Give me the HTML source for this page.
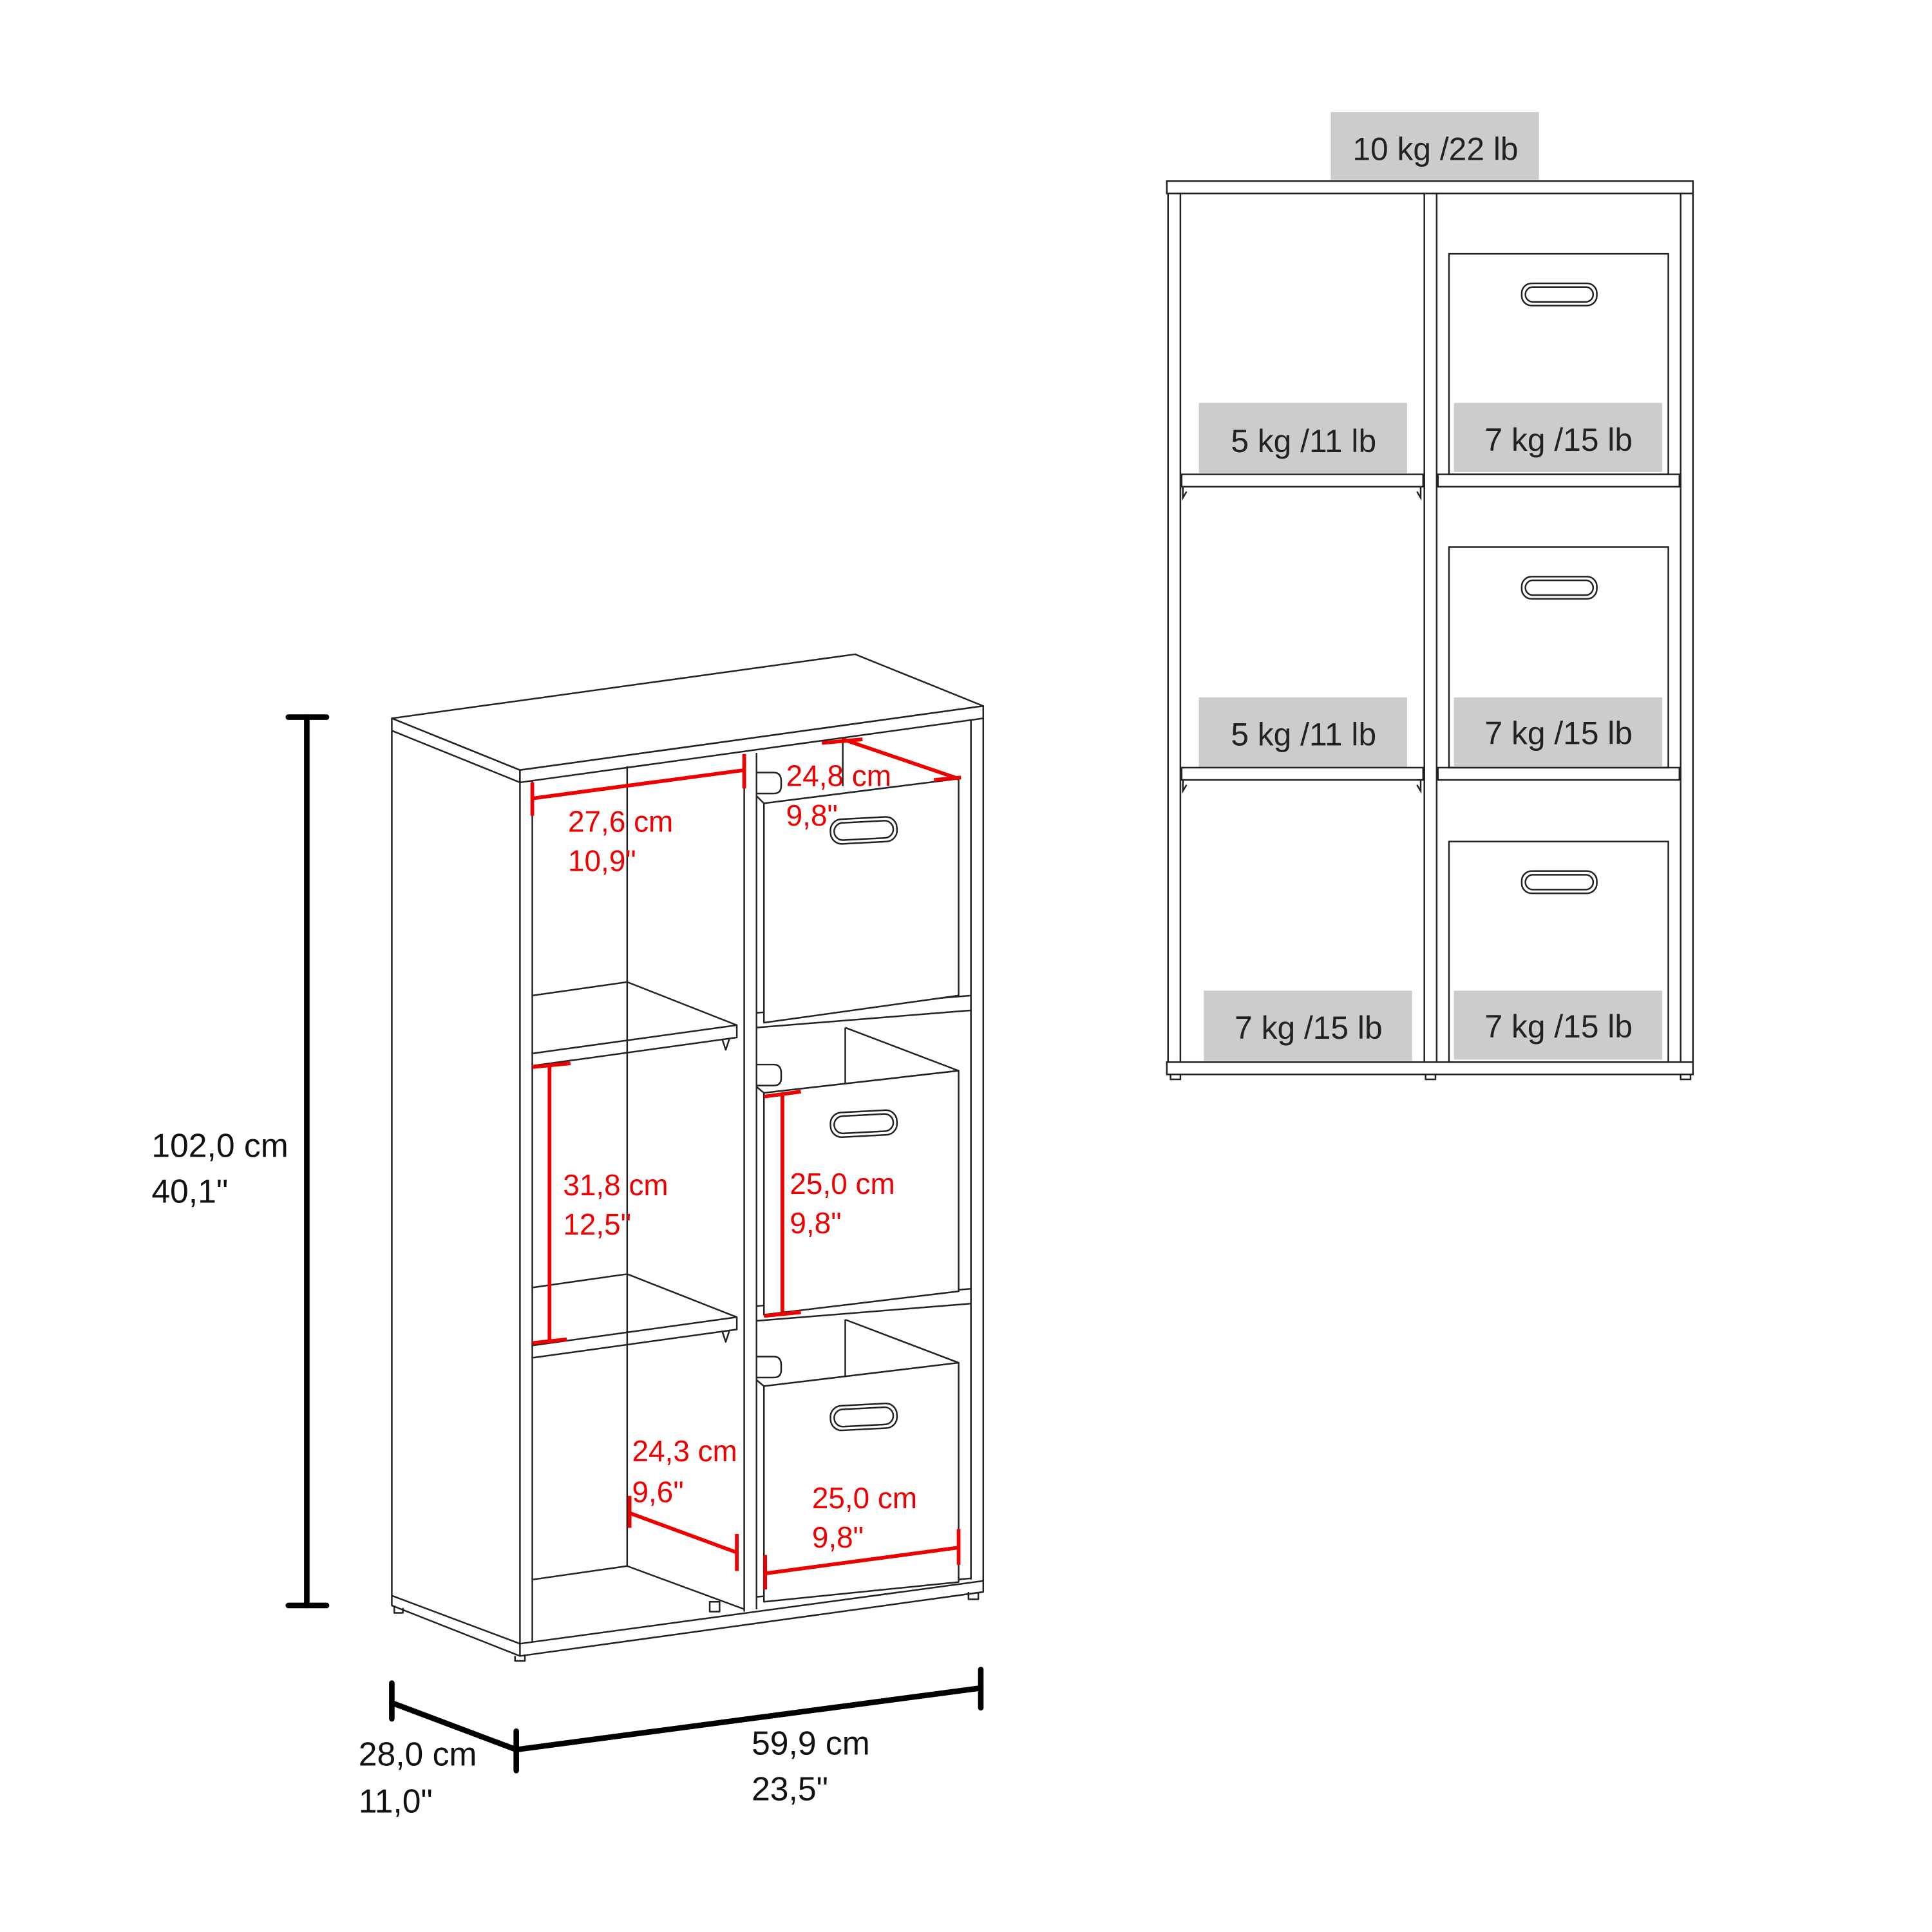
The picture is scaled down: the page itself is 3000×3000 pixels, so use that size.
<!DOCTYPE html>
<html><head><meta charset="utf-8"><style>
html,body{margin:0;padding:0;background:#fff}
svg{display:block}
text{font-family:"Liberation Sans",sans-serif}
</style></head><body>
<svg width="3000" height="3000" viewBox="0 0 1568 1568" xmlns="http://www.w3.org/2000/svg">
<g fill="none" stroke="#222" stroke-width="1.3" stroke-linejoin="round">
<polygon points="318,583 694,531 798,573 422,625" fill="#fff"/>
<polygon points="318,583 422,625 422,635 318,593" fill="#fff"/>
<polygon points="422,625 798,573 798,583 422,635" fill="#fff"/>
<line x1="318" y1="593" x2="318" y2="1295"/>
<line x1="422" y1="635" x2="422" y2="1342"/>
<line x1="432" y1="634" x2="432" y2="1332"/>
<line x1="788" y1="585" x2="788" y2="1282"/>
<line x1="798" y1="583" x2="798" y2="1283"/>
<line x1="604" y1="612" x2="604" y2="1308"/>
<line x1="614" y1="611" x2="614" y2="1306"/>
<polygon points="318,1295 422,1334 798,1283 798,1292 422,1344 318,1303" fill="#fff"/>
<line x1="422" y1="1334" x2="422" y2="1344"/>
<path d="M418,1344 v4 h8 v-4 M320,1303 v6 h7 v-4 M786,1292 v6 h8 v-6"/>
<line x1="509" y1="622" x2="509" y2="1271"/>
<polyline points="432,808 509,797 598,832 598,842 432,865"/>
<line x1="432" y1="855" x2="598" y2="832"/>
<path d="M586,843 l3,9 l3,-9"/>
<polyline points="432,1045 509,1034 598,1069 598,1079 432,1102"/>
<line x1="432" y1="1092" x2="598" y2="1069"/>
<path d="M586,1080 l3,9 l3,-9"/>
<polyline points="432,1282 509,1271 604,1306"/>
<rect x="576" y="1300" width="8" height="8"/>
<line x1="614" y1="822" x2="788" y2="808"/>
<line x1="614" y1="834" x2="788" y2="820"/>
<line x1="614" y1="1060" x2="788" y2="1046"/>
<line x1="614" y1="1072" x2="788" y2="1058"/>
<line x1="614" y1="1296" x2="788" y2="1281"/>
<line x1="684" y1="599" x2="684" y2="638"/>
<polyline points="684,599 778,632 620,652"/>
<polygon points="620,652 778,632 778,808 620,830" fill="#fff"/>
<line x1="614" y1="646" x2="620" y2="652"/>
<rect x="674" y="664" width="54" height="20" rx="9" transform="rotate(-3 700 674)"/>
<rect x="677" y="667" width="48" height="14" rx="7" transform="rotate(-3 700 674)"/>
<path d="M614,627 h14 q6,0 6,7 v4 q0,6 -6,6 h-14"/>
<line x1="686" y1="834" x2="686" y2="880"/>
<polyline points="686,834 778,869 620,887"/>
<polygon points="620,887 778,869 778,1048 620,1067" fill="#fff"/>
<line x1="614" y1="882" x2="620" y2="887"/>
<rect x="674" y="902" width="54" height="20" rx="9" transform="rotate(-3 700 912)"/>
<rect x="677" y="905" width="48" height="14" rx="7" transform="rotate(-3 700 912)"/>
<path d="M614,864 h14 q6,0 6,7 v4 q0,6 -6,6 h-14"/>
<line x1="686" y1="1071" x2="686" y2="1118"/>
<polyline points="686,1071 778,1106 620,1125"/>
<polygon points="620,1125 778,1106 778,1284 620,1300" fill="#fff"/>
<line x1="614" y1="1120" x2="620" y2="1125"/>
<rect x="674" y="1140" width="54" height="20" rx="9" transform="rotate(-3 700 1150)"/>
<rect x="677" y="1143" width="48" height="14" rx="7" transform="rotate(-3 700 1150)"/>
<path d="M614,1101 h14 q6,0 6,7 v4 q0,6 -6,6 h-14"/>
</g>
<g stroke="#e00" stroke-width="3" fill="none" stroke-linecap="butt">
<line x1="432" y1="648" x2="604" y2="625"/><line x1="432" y1="635" x2="432" y2="662"/><line x1="604" y1="612" x2="604" y2="640"/>
<line x1="684" y1="600" x2="778" y2="632"/><line x1="667" y1="603" x2="700" y2="600"/><line x1="758" y1="633" x2="780" y2="631"/>
<line x1="446" y1="865" x2="446" y2="1090"/><line x1="432" y1="866" x2="463" y2="863"/><line x1="432" y1="1090" x2="460" y2="1087"/>
<line x1="635" y1="887" x2="635" y2="1068"/><line x1="620" y1="890" x2="650" y2="886"/><line x1="620" y1="1068" x2="650" y2="1065"/>
<line x1="511" y1="1228" x2="598" y2="1260"/><line x1="511" y1="1214" x2="511" y2="1240"/><line x1="598" y1="1245" x2="598" y2="1275"/>
<line x1="621" y1="1277" x2="778" y2="1256"/><line x1="621" y1="1262" x2="621" y2="1290"/><line x1="778" y1="1241" x2="778" y2="1270"/>
</g>
<g fill="#e00" font-size="24">
<text x="461" y="675">27,6 cm</text><text x="461" y="707">10,9"</text>
<text x="638" y="638">24,8 cm</text><text x="638" y="670">9,8"</text>
<text x="457" y="970">31,8 cm</text><text x="457" y="1002">12,5"</text>
<text x="641" y="969">25,0 cm</text><text x="641" y="1001">9,8"</text>
<text x="513" y="1186">24,3 cm</text><text x="513" y="1219">9,6"</text>
<text x="659" y="1224">25,0 cm</text><text x="659" y="1256">9,8"</text>
</g>
<g stroke="#000" stroke-width="4.5" fill="none" stroke-linecap="round">
<line x1="249" y1="582" x2="249" y2="1303"/><line x1="234" y1="582" x2="265" y2="582"/><line x1="234" y1="1303" x2="265" y2="1303"/>
<line x1="318" y1="1382" x2="419" y2="1420"/><line x1="419" y1="1420" x2="796" y2="1370"/>
<line x1="318" y1="1366" x2="318" y2="1395"/><line x1="419" y1="1405" x2="419" y2="1437"/><line x1="796" y1="1355" x2="796" y2="1386"/>
</g>
<g fill="#111" font-size="27">
<text x="123" y="939">102,0 cm</text><text x="123" y="976">40,1"</text>
<text x="291" y="1433">28,0 cm</text><text x="291" y="1471">11,0"</text>
<text x="610" y="1424">59,9 cm</text><text x="610" y="1461">23,5"</text>
</g>
<g fill="#ccc">
<rect x="1080" y="91" width="169" height="55"/>
<rect x="973" y="327" width="169" height="57"/>
<rect x="973" y="566" width="169" height="57"/>
<rect x="977" y="804" width="169" height="57"/>
</g>
<g fill="none" stroke="#222" stroke-width="1.3">
<rect x="947" y="147" width="427" height="10" fill="#fff"/>
<line x1="948" y1="157" x2="948" y2="862"/><line x1="958" y1="157" x2="958" y2="862"/>
<line x1="1364" y1="157" x2="1364" y2="862"/><line x1="1374" y1="157" x2="1374" y2="862"/>
<line x1="1156" y1="157" x2="1156" y2="862"/><line x1="1166" y1="157" x2="1166" y2="862"/>
<rect x="959" y="385" width="196" height="10"/><rect x="959" y="623" width="196" height="10"/>
<rect x="1167" y="385" width="196" height="10"/><rect x="1167" y="623" width="196" height="10"/>
<path d="M960,395 v9 l3,-5 M1153,395 v9 l-3,-5 M960,633 v9 l3,-5 M1153,633 v9 l-3,-5"/>
<rect x="947" y="862" width="427" height="10" fill="#fff"/>
<path d="M950,872 v4 h8 v-4 M1157,872 v4 h8 v-4 M1364,872 v4 h8 v-4"/>
<rect x="1176" y="206" width="178" height="179"/>
<rect x="1176" y="444" width="178" height="179"/>
<rect x="1176" y="683" width="178" height="179"/>
<rect x="1235" y="230" width="61" height="18" rx="8"/><rect x="1238" y="233" width="55" height="12" rx="6"/>
<rect x="1235" y="468" width="61" height="18" rx="8"/><rect x="1238" y="471" width="55" height="12" rx="6"/>
<rect x="1235" y="707" width="61" height="18" rx="8"/><rect x="1238" y="710" width="55" height="12" rx="6"/>
</g>
<g fill="#ccc">
<rect x="1180" y="327" width="169" height="56"/>
<rect x="1180" y="566" width="169" height="56"/>
<rect x="1180" y="804" width="169" height="56"/>
</g>
<g fill="#222" font-size="26" text-anchor="middle">
<text x="1165" y="130">10 kg /22 lb</text>
<text x="1058" y="367">5 kg /11 lb</text>
<text x="1265" y="366">7 kg /15 lb</text>
<text x="1058" y="605">5 kg /11 lb</text>
<text x="1265" y="604">7 kg /15 lb</text>
<text x="1062" y="843">7 kg /15 lb</text>
<text x="1265" y="842">7 kg /15 lb</text>
</g>
</svg>
</body></html>
